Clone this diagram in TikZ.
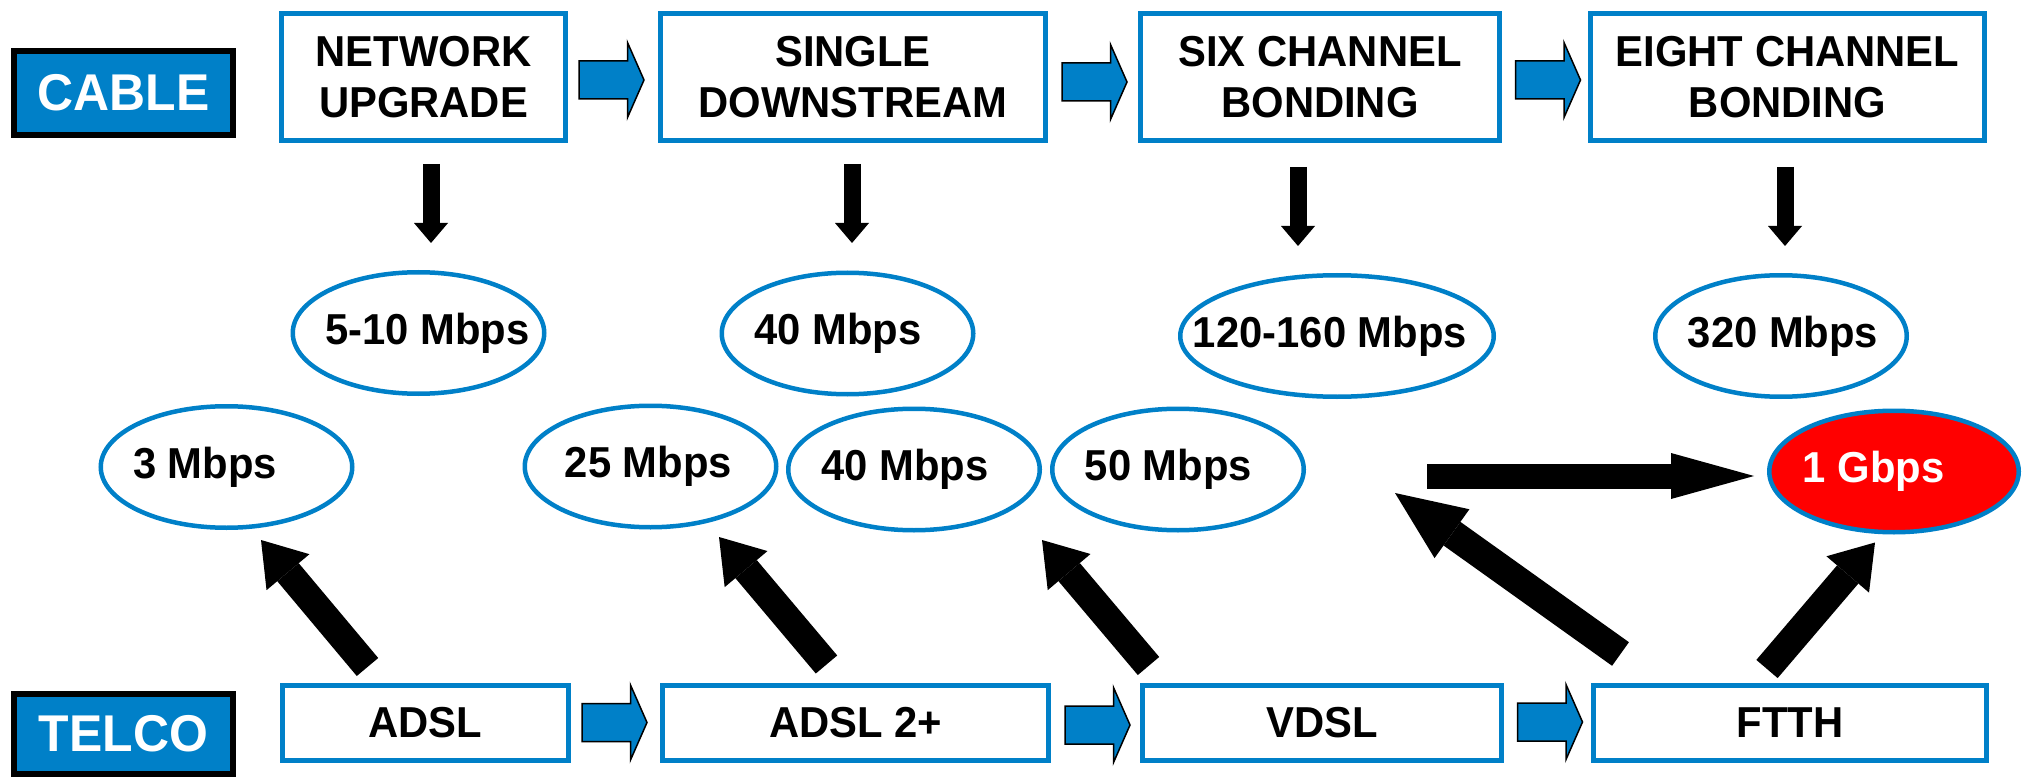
\documentclass[tikz,border=0pt]{standalone}
\usepackage{fontspec}
\newfontfamily\lab{Liberation Sans}[FakeStretch=0.965]
\usetikzlibrary{shapes.geometric,arrows.meta,calc}
\definecolor{cblue}{RGB}{0,128,200}
\definecolor{cred}{RGB}{255,0,0}
\newcommand\tsh[2]{\makebox[0pt]{\kern#1\relax\kern#1\relax #2}}
\begin{document}
\begin{tikzpicture}[x=1pt,y=-1pt,
  every node/.style={font=\lab\bfseries\fontsize{43.3}{51}\selectfont, inner sep=0pt},
  catbox/.style={draw=black, fill=cblue, line width=6pt, text=white,
    minimum width=219pt, minimum height=84pt, font=\lab\bfseries\fontsize{51.7}{60}\selectfont},
  stepbox/.style={draw=cblue, line width=5pt, fill=white, align=center},
  topbox/.style={stepbox, minimum height=127pt},
  botbox/.style={stepbox, minimum height=75pt},
  rate/.style={ellipse, draw=cblue, line width=4.5pt, fill=white,
    minimum width=251.5pt, minimum height=121.5pt},
  downarr/.style={draw=black, line width=17pt, -{Triangle[length=20pt,width=34pt,line width=0pt]}},
  diagarr/.style={draw=black, line width=28pt, -{Triangle[length=42pt,width=56pt,line width=0pt]}},
  bigarr/.style={draw=black, line width=29pt, -{Triangle[length=70pt,width=60pt,line width=0pt]}},
  horarr/.style={draw=black, line width=25pt, -{Triangle[length=83pt,width=46pt,line width=0pt]}},
  pics/barrow/.style={code={
    \filldraw[fill=cblue, draw=black, line width=1.5pt]
      (-32.5,-19) -- (16,-19) -- (16,-37.5) -- (32.5,0) -- (16,37.5) -- (16,19) -- (-32.5,19) -- cycle;}}
]
\useasboundingbox (0,0) rectangle (2022,778);

% category labels
\node[catbox] (cable) at (123.5,93) {CABLE};
\node[catbox, minimum height=80pt] (telco) at (123.5,734) {TELCO};

% cable steps
\node[topbox, minimum width=284pt] (b1) at (423.5,77) {NETWORK\\UPGRADE};
\node[topbox, minimum width=385pt] (b2) at (853,77) {SINGLE\\DOWNSTREAM};
\node[topbox, minimum width=359pt] (b3) at (1320,77) {SIX CHANNEL\\BONDING};
\node[topbox, minimum width=394pt] (b4) at (1787.5,77) {EIGHT CHANNEL\\BONDING};

% telco steps
\node[botbox, minimum width=286pt] (adsl) at (425.5,723) {ADSL};
\node[botbox, minimum width=386pt] (adsl2) at (855.5,723) {ADSL 2+};
\node[botbox, minimum width=359pt] (vdsl) at (1322,723) {VDSL};
\node[botbox, minimum width=393pt] (ftth) at (1790,723) {FTTH};

% rates
\node[rate] (e510) at (418.5,333) {\tsh{9pt}{5-10 Mbps}};
\node[rate] (e40a) at (847.5,333.5) {\tsh{-9.5pt}{40 Mbps}};
\node[rate, minimum width=313.5pt] (e120) at (1337,336) {\tsh{-7pt}{120-160 Mbps}};
\node[rate] (e320) at (1781,336) {\tsh{2pt}{320 Mbps}};
\node[rate] (e3) at (226.5,467) {\tsh{-21.5pt}{3 Mbps}};
\node[rate] (e25) at (650.5,466.5) {\tsh{-2pt}{25 Mbps}};
\node[rate] (e40b) at (914,469.5) {\tsh{-9pt}{40 Mbps}};
\node[rate] (e50) at (1178,469.5) {\tsh{-9.5pt}{50 Mbps}};
\node[rate, fill=cred, text=white, minimum width=249.5pt] (eg) at (1894,471.5) {\tsh{-20.5pt}{1 Gbps}};

% blue block arrows
\pic at ($(b1.east)!0.5!(b2.west)+(-1.5,3)$) {barrow};
\pic at ($(b2.east)!0.5!(b3.west)+(1.5,5)$) {barrow};
\pic at ($(b3.east)!0.5!(b4.west)+(3,3)$) {barrow};
\pic at ($(adsl.east)!0.5!(adsl2.west)+(-1,-0.5)$) {barrow};
\pic at ($(adsl2.east)!0.5!(vdsl.west)+(2,2)$) {barrow};
\pic at ($(vdsl.east)!0.5!(ftth.west)+(2.5,-1)$) {barrow};

% down arrows
\draw[downarr] ($(b1.south)+(7.5,21)$) -- ($(e510.north)+(12.5,-27)$);
\draw[downarr] ($(b2.south)+(-1,21)$) -- ($(e40a.north)+(4.5,-27.5)$);
\draw[downarr] ($(b3.south)+(-22,24)$) -- ($(e120.north)+(-39,-27)$);
\draw[downarr] ($(b4.south)+(-2.5,24)$) -- ($(e320.north)+(4,-27)$);

% up arrows
\draw[diagarr] ($(adsl.north)+(-58,-16)$) -- ($(e3.south)+(34.5,10)$);
\draw[diagarr] ($(adsl2.north)+(-29,-18.5)$) -- ($(e25.south)+(68.5,7.5)$);
\draw[diagarr] ($(vdsl.north)+(-173.5,-17)$) -- ($(e40b.south)+(128,7.5)$);
\draw[bigarr] ($(ftth.north)+(-169.5,-29)$) -- ($(e50.east)+(89,23.5)$);
\draw[diagarr] ($(ftth.north)+(-23,-14)$) -- ($(eg.south)+(-19,8)$);
\draw[horarr] ($(e50.east)+(121,6.5)$) -- ($(eg.west)+(-13,4.5)$);
\end{tikzpicture}
\end{document}
